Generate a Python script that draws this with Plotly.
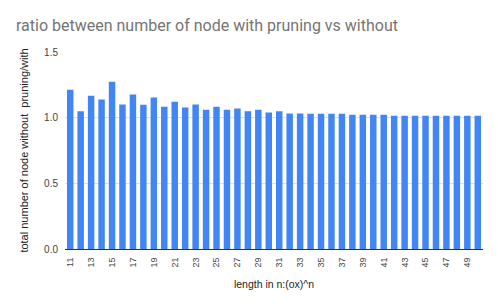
import plotly.graph_objects as go

lengths = list(range(11, 51))
ratios = [1.212, 1.048, 1.167, 1.139, 1.273, 1.101, 1.177, 1.098, 1.154, 1.083,
          1.121, 1.078, 1.101, 1.061, 1.083, 1.061, 1.070, 1.048, 1.061, 1.040,
          1.048, 1.032, 1.032, 1.030, 1.030, 1.030, 1.030, 1.023, 1.023, 1.023,
          1.023, 1.015, 1.015, 1.015, 1.015, 1.015, 1.015, 1.015, 1.015, 1.015]
tick_vals = list(range(11, 50, 2))
tick_text = [str(v) for v in tick_vals]

# page body has an 8px margin, so the figure is drawn 8px in from top/left
W, H = 490, 300
fig = go.Figure(go.Bar(x=lengths, y=ratios, marker=dict(color="#4285F4", line=dict(width=0))))

fig.update_layout(
    width=W, height=H,
    margin=dict(l=57, r=15, t=44, b=59),
    paper_bgcolor="white", plot_bgcolor="white",
    bargap=0.38,
    showlegend=False,
    title=dict(text="ratio between number of node with pruning vs without",
               x=8/W, xanchor="left", y=1-17/H, yanchor="middle",
               font=dict(family="Roboto, Arial", size=16, color="#757575")),
    font=dict(family="Liberation Sans, Arial", size=10, color="#444444"),
)
fig.update_xaxes(
    range=[10.5, 50.5], tickmode="array", tickvals=tick_vals, ticktext=tick_text,
    tickangle=-90, showgrid=False, showline=True, linecolor="#333333", linewidth=1,
    ticks="", ticklabelstandoff=4, tickfont=dict(size=9, color="#444444"),
    title=dict(text="length in n:(ox)^n", font=dict(size=10.5, color="#222222"), standoff=14),
)
fig.update_yaxes(
    range=[0, 1.5], tickvals=[0, 0.5, 1.0, 1.5], ticktext=["0.0", "0.5", "1.0", "1.5"],
    showgrid=True, gridcolor="#e0e0e0", zeroline=False, showline=False,
    ticks="", ticklabelstandoff=6, tickfont=dict(size=10, color="#444444"),
    title=dict(text="total number of node without  pruning/with", font=dict(size=11, color="#222222"), standoff=13),
)
fig.write_html("out.html")
